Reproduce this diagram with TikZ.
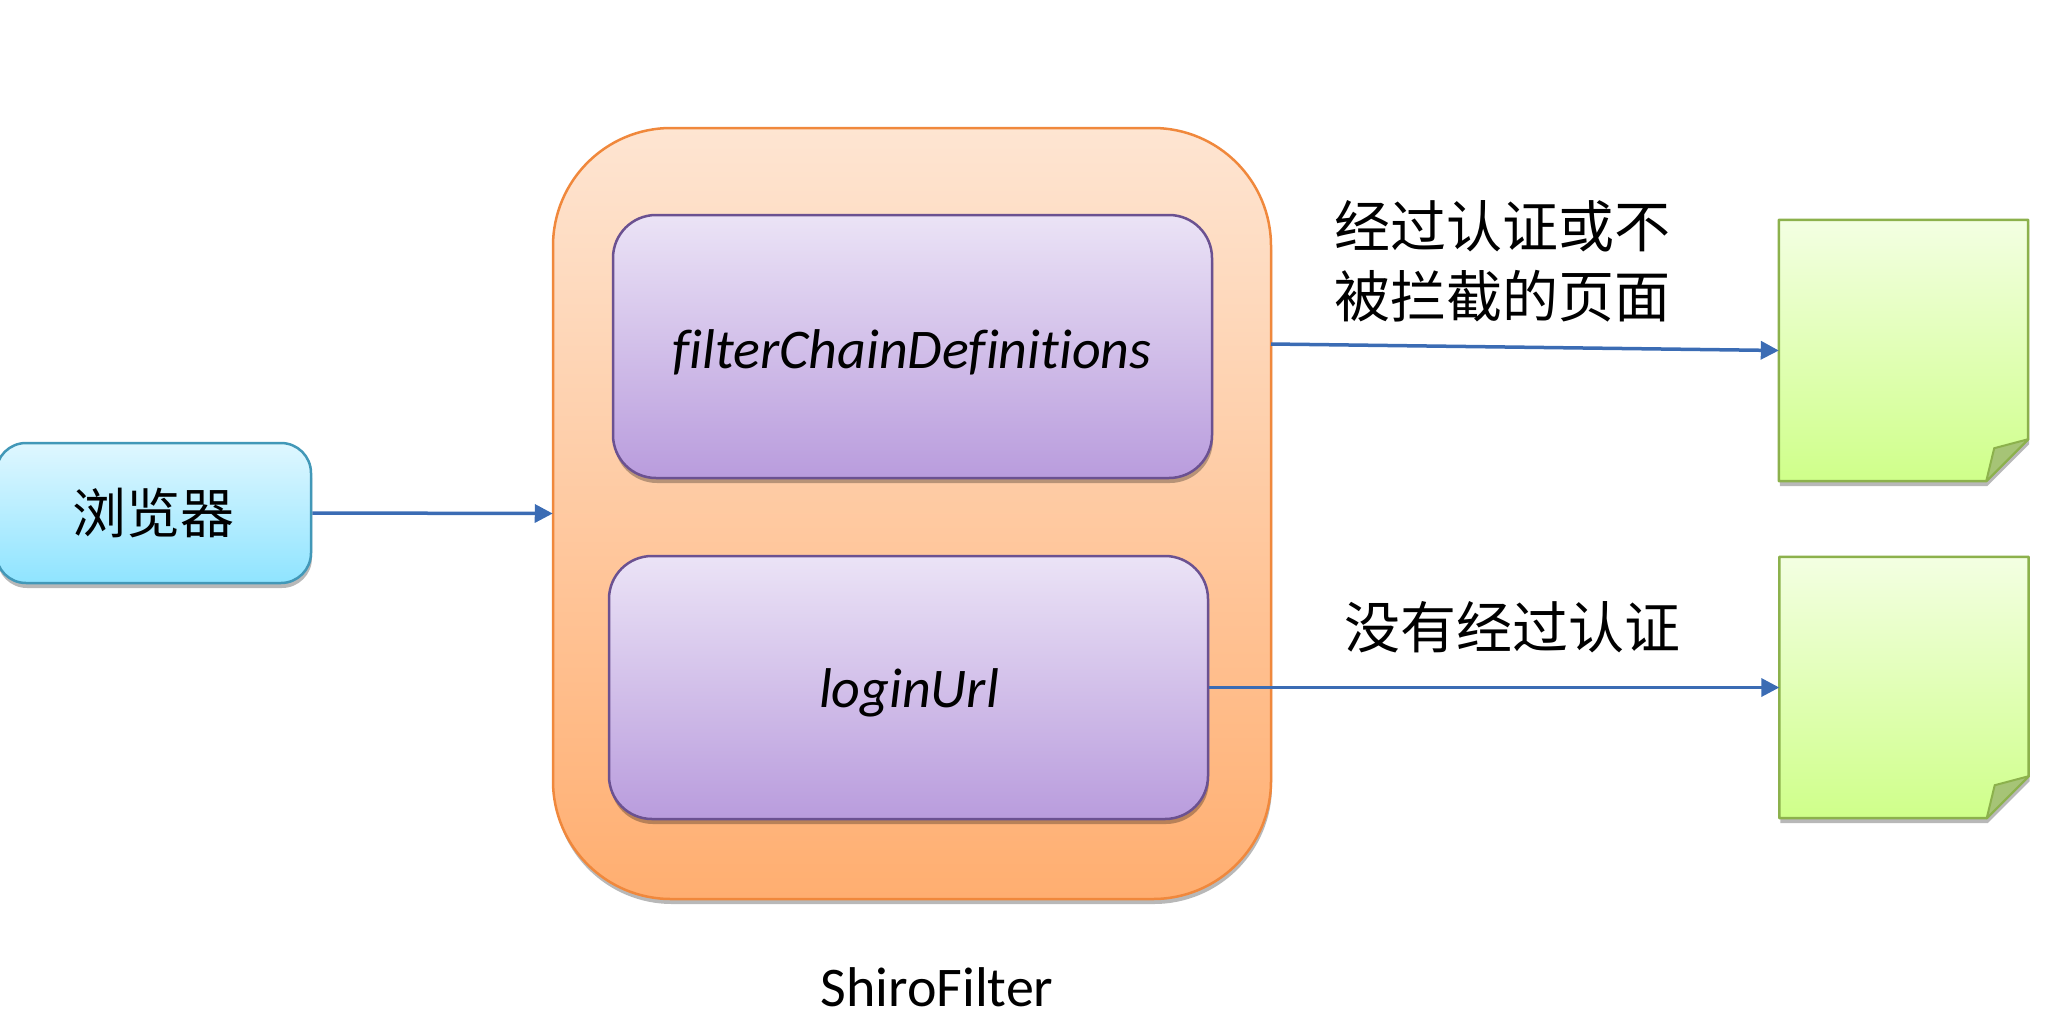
\documentclass[tikz,border=0pt]{standalone}
\usepackage{fontspec}
\usepackage{xcolor}
\setmainfont[Ligatures=NoCommon]{Carlito}
\newfontfamily\cjk{Noto Sans CJK SC}
\usetikzlibrary{arrows.meta,shadows,calc}
\definecolor{arrowblue}{HTML}{3B6CB4}
\definecolor{outerline}{HTML}{F0883C}
\definecolor{outertop}{HTML}{FEE5D2}
\definecolor{outerbottom}{HTML}{FFAE70}
\definecolor{innerline}{HTML}{6B5191}
\definecolor{innertop}{HTML}{EBE3F6}
\definecolor{innerbottom}{HTML}{B99CDD}
\definecolor{browserline}{HTML}{4298B8}
\definecolor{browsertop}{HTML}{DFF7FF}
\definecolor{browserbottom}{HTML}{8FE4FF}
\definecolor{pageline}{HTML}{8CB14C}
\definecolor{pagetop}{HTML}{F3FFE2}
\definecolor{pagebottom}{HTML}{CFFF8A}
\definecolor{pagefold}{HTML}{A6C476}
\tikzset{
	softshadow/.style={drop shadow={shadow xshift=1pt,shadow yshift=-5pt,opacity=.28,fill=black}},
	outerbox/.style={draw=outerline,line width=2.5pt,top color=outertop,bottom color=outerbottom,rounded corners=118pt,softshadow},
	innerbox/.style={draw=innerline,line width=2.5pt,top color=innertop,bottom color=innerbottom,rounded corners=43pt,softshadow,minimum width=599pt,minimum height=263pt},
	link/.style={-{Triangle[length=18pt,width=18pt]},line width=3.5pt,arrowblue},
	cjklabel/.style={font=\cjk\fontsize{56}{70}\selectfont,align=center,inner sep=0pt},
	boxlabel/.style={font=\itshape\fontsize{56}{60}\selectfont},
}
\begin{document}
\begin{tikzpicture}[x=1pt,y=-1pt]
		\useasboundingbox (0,0) rectangle (2048,1026);
		\node[draw=browserline,line width=2.5pt,top color=browsertop,bottom color=browserbottom,rounded corners=30pt,softshadow,minimum width=315pt,minimum height=140pt,inner sep=0pt,font=\cjk\fontsize{54}{60}\selectfont] (browser) at (153.5,513) {浏览器};
		\node[outerbox,minimum width=718pt,minimum height=771pt] (shiro) at (912,513.5) {};
		\node[innerbox] (filterchain) at (912.5,346.5) {};
		\node[innerbox] (loginurl) at (908.5,687.5) {};
		\node[boxlabel] (filterlabel) at (912,352) {filterChainDefinitions};
		\node[boxlabel] (loginlabel) at (909,693) {loginUrl};
		\node[font=\fontsize{56}{60}\selectfont] (shirolabel) at (937,987) {ShiroFilter};
		% pages with a folded corner
		\foreach \n/\x/\y in {pageok/1903.5/350.5,pagelogin/1904/687.5}{
			\node[minimum width=249pt,minimum height=261pt,inner sep=0pt] (\n) at (\x,\y) {};
			\draw[draw=pageline,line width=2.5pt,top color=pagetop,bottom color=pagebottom,line join=round,softshadow]
				(\n.north west) -- (\n.north east) -- ($(\n.south east)+(0,-42)$) -- ($(\n.south east)+(-42,0)$) -- (\n.south west) -- cycle;
			\draw[draw=pageline,line width=2pt,fill=pagefold,line join=round]
				($(\n.south east)+(0,-42)$) -- ($(\n.south east)+(-34,-33)$) -- ($(\n.south east)+(-42,0)$) -- cycle;
		}
		\coordinate (shirotap) at (1271,344);
		\draw[link,shorten >=-1pt] (browser.east) -- (shiro.west);
		\draw[link] (shirotap) -- (pageok.west);
		\draw[link] (loginurl.east) -- (pagelogin.west);
		\node[cjklabel] (oklabel) at (1502,261) {经过认证或不\\被拦截的页面};
		\node[cjklabel] (nologinlabel) at (1512,627) {没有经过认证};
\end{tikzpicture}
\end{document}
